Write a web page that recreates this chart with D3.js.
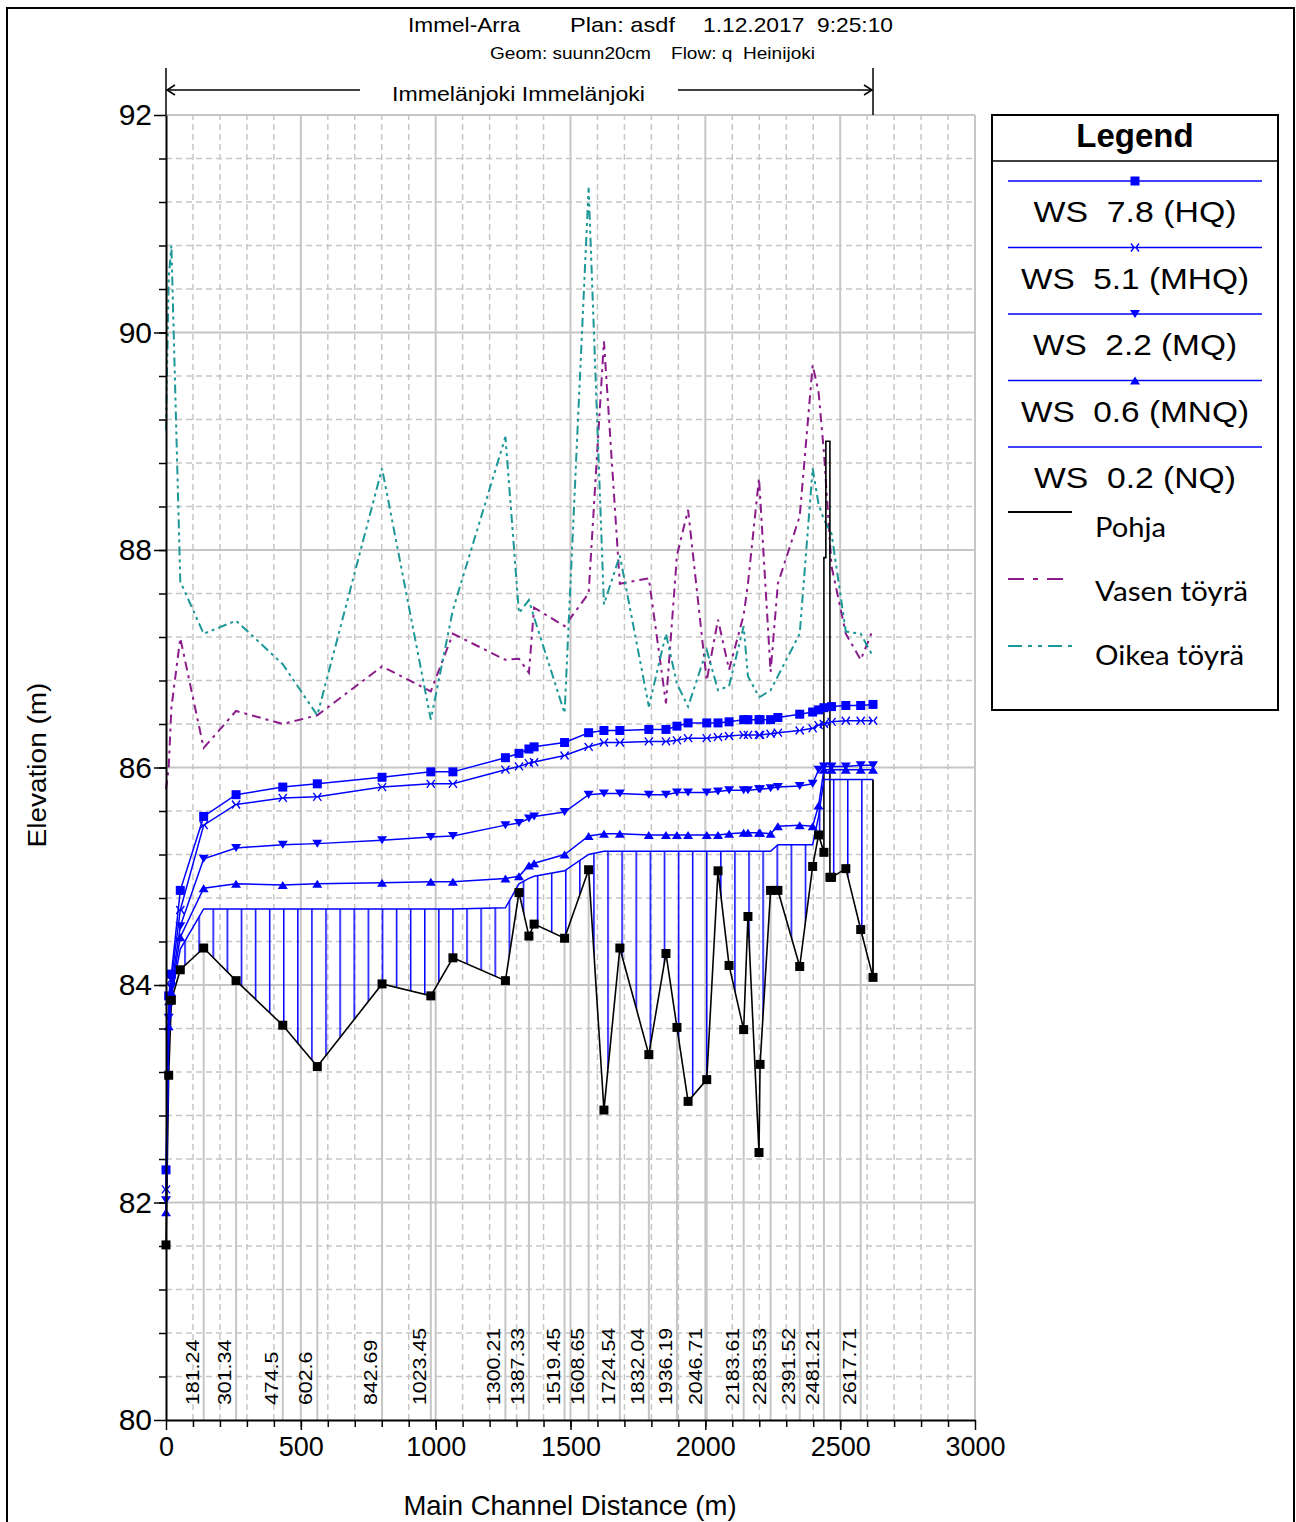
<!DOCTYPE html>
<html>
<head>
<meta charset="utf-8">
<script src="https://cdn.jsdelivr.net/npm/d3@7"></script>
<style>
body { margin: 0; background: #fff; }
svg { display: block; }
</style>
</head>
<body>
<svg id="chart"></svg>
<script>
// cross sections: main channel distance (m)
const wsDist = [0, 10, 20, 53, 139.7, 259.8, 433, 561.1, 801.2, 982, 1064, 1258.7, 1309, 1345.8, 1365, 1478, 1567.2, 1624, 1683, 1790.5,
    1854, 1894.7, 1936, 2005.2, 2047, 2088, 2142.1, 2158, 2199, 2203, 2242, 2269, 2350, 2398, 2420, 2439.7, 2468, 2521, 2576.2, 2621.8]

// water surface profiles (m)
const wsHQ = [82.30, 83.90, 84.10, 84.87, 85.55, 85.75, 85.82, 85.85, 85.91, 85.96, 85.96, 86.09, 86.13, 86.17, 86.19, 86.23, 86.32, 86.34, 86.34, 86.35,
    86.35, 86.38, 86.41, 86.41, 86.41, 86.42, 86.44, 86.44, 86.44, 86.44, 86.44, 86.46, 86.49, 86.51, 86.53, 86.55, 86.56, 86.57, 86.57, 86.58]
const wsMHQ = [82.12, 83.85, 84.05, 84.69, 85.47, 85.66, 85.72, 85.73, 85.82, 85.85, 85.85, 85.98, 86.01, 86.04, 86.05, 86.11, 86.19, 86.23, 86.23, 86.24,
    86.24, 86.25, 86.27, 86.27, 86.28, 86.29, 86.30, 86.30, 86.30, 86.30, 86.31, 86.32, 86.34, 86.36, 86.39, 86.40, 86.42, 86.43, 86.43, 86.43]
const wsMQ = [82.02, 83.70, 83.98, 84.54, 85.16, 85.26, 85.29, 85.30, 85.33, 85.36, 85.37, 85.47, 85.49, 85.53, 85.55, 85.59, 85.75, 85.76, 85.76, 85.75,
    85.75, 85.77, 85.77, 85.77, 85.78, 85.79, 85.79, 85.79, 85.80, 85.80, 85.81, 85.82, 85.83, 85.85, 85.98, 86.01, 86.01, 86.01, 86.02, 86.02]
const wsMNQ = [81.91, 83.62, 83.93, 84.44, 84.89, 84.93, 84.92, 84.93, 84.94, 84.95, 84.95, 84.98, 85.00, 85.10, 85.12, 85.20, 85.37, 85.39, 85.39, 85.38,
    85.38, 85.38, 85.38, 85.38, 85.38, 85.39, 85.40, 85.40, 85.40, 85.40, 85.39, 85.46, 85.47, 85.46, 85.65, 85.98, 85.98, 85.98, 85.98, 85.98]
const wsNQ = [81.88, 83.55, 83.90, 84.33, 84.70, 84.70, 84.70, 84.70, 84.70, 84.70, 84.70, 84.71, 84.93, 84.98, 85.00, 85.05, 85.20, 85.23, 85.23, 85.23,
    85.23, 85.23, 85.23, 85.23, 85.23, 85.23, 85.23, 85.23, 85.23, 85.23, 85.23, 85.29, 85.29, 85.29, 85.55, 85.89, 85.89, 85.89, 85.89, 85.89]

// banks
const vasen = [85.80, 86.00, 86.55, 87.19, 86.18, 86.52, 86.40, 86.48, 86.93, 86.70, 87.23, 86.99, 87.00, 86.87, 87.47, 87.30, 87.60, 89.92, 87.69, 87.74,
    86.59, 87.95, 88.37, 86.80, 87.36, 86.90, 87.40, 87.69, 88.66, 88.50, 86.88, 87.69, 88.31, 89.70, 89.45, 88.90, 87.85, 87.23, 86.99, 87.27]
const oikea = [89.10, 90.50, 90.80, 87.71, 87.23, 87.35, 86.95, 86.48, 88.75, 86.44, 87.45, 89.04, 87.42, 87.54, 87.38, 86.50, 91.33, 87.50, 87.95, 86.56,
    87.23, 86.77, 86.56, 87.08, 86.71, 86.75, 87.30, 86.84, 86.65, 86.65, 86.71, 86.84, 87.23, 88.75, 88.42, 88.28, 88.15, 87.25, 87.23, 87.02]

// channel bed (includes the weir outline)
const pohjaDist = [0, 10, 20, 53, 139.7, 259.8, 433, 561.1, 801.2, 982, 1064, 1258.7, 1309, 1345.8, 1365, 1478, 1567.2, 1624, 1683, 1790.5,
    1854, 1894.7, 1936, 2005.2, 2047, 2088, 2142.1, 2158, 2199, 2203, 2242, 2269, 2350, 2398, 2420, 2439.7, 2439.7, 2447, 2447, 2462,
    2462, 2468, 2521, 2576.2, 2621.8]
const pohjaZ = [81.61, 83.17, 83.86, 84.14, 84.34, 84.04, 83.63, 83.25, 84.01, 83.90, 84.25, 84.04, 84.85, 84.45, 84.56, 84.43, 85.06, 82.85, 84.34, 83.36,
    84.29, 83.61, 82.93, 83.13, 85.05, 84.18, 83.59, 84.63, 82.46, 83.27, 84.87, 84.87, 84.17, 85.09, 85.38, 85.22, 87.93, 87.93, 89.00, 89.00,
    84.99, 84.99, 85.07, 84.51, 84.07]
const pohjaMark = [1, 1, 1, 1, 1, 1, 1, 1, 1, 1, 1, 1, 1, 1, 1, 1, 1, 1, 1, 1,
    1, 1, 1, 1, 1, 1, 1, 1, 1, 1, 1, 1, 1, 1, 1, 1, 0, 0, 0, 0,
    1, 1, 1, 1, 1]

// labelled river stations
const rsLabels = ["181.24", "301.34", "474.5", "602.6", "842.69", "1023.45", "1300.21", "1387.33", "1519.45", "1608.65",
    "1724.54", "1832.04", "1936.19", "2046.71", "2183.61", "2283.53", "2391.52", "2481.21", "2617.71"]
const rsDist = [139.7, 259.8, 433, 561.1, 801.2, 982, 1258.7, 1345.8, 1478, 1567.2,
    1683, 1790.5, 1894.7, 2005.2, 2142.1, 2242, 2350, 2439.7, 2576.2]

const xMajor = [0, 500, 1000, 1500, 2000, 2500, 3000]
const yMajor = [80, 82, 84, 86, 88, 90, 92]

const W = 1296, H = 1522
const font = "'Liberation Sans', Arial, Helvetica, sans-serif"
const blue = "#0000ff", grid = "#c6c6c6", purple = "#8b1a8b", teal = "#1d9797"

let svg = d3.select("#chart").attr("width", W).attr("height", H)

let x = d3.scaleLinear().domain([0, 3000]).range([166, 975])
let y = d3.scaleLinear().domain([80, 92]).range([1420, 115])

// outer frame
svg.append("rect").attr("x", 7).attr("y", 8).attr("width", 1287).attr("height", 1540)
    .attr("fill", "none").attr("stroke", "#000").attr("stroke-width", 2)

// grid
let gGrid = svg.append("g")
d3.range(1, 31).forEach(function(i) {
    let v = i * 100, major = v % 500 === 0
    gGrid.append("line").attr("x1", x(v)).attr("x2", x(v)).attr("y1", y(80)).attr("y2", y(92))
        .attr("stroke", grid).attr("stroke-width", major ? 2 : 1.5)
        .attr("stroke-dasharray", major ? null : "6,4")
})
d3.range(1, 31).forEach(function(i) {
    let v = 80 + i * 0.4, major = i % 5 === 0
    gGrid.append("line").attr("x1", x(0)).attr("x2", x(3000)).attr("y1", y(v)).attr("y2", y(v))
        .attr("stroke", grid).attr("stroke-width", major ? 2 : 1.5)
        .attr("stroke-dasharray", major ? null : "6,4")
})

// station lines, from axis up to the bed
function bedAt(d) {
    return pohjaZ[pohjaDist.indexOf(d)]
}
svg.append("g").selectAll("line").data(rsDist).enter().append("line")
    .attr("x1", d => x(d)).attr("x2", d => x(d))
    .attr("y1", y(80)).attr("y2", d => y(bedAt(d)))
    .attr("stroke", grid).attr("stroke-width", 2)

// station labels
svg.append("g").selectAll("text").data(rsLabels).enter().append("text")
    .attr("transform", (d, i) => "translate(" + (x(rsDist[i]) - 5) + ",1405) rotate(-90) scale(1.22,1)")
    .attr("font-family", font).attr("font-size", 17.5).attr("fill", "#000")
    .text(d => d)

// data as point objects
const wsPts = vals => wsDist.map((d, i) => ({ d: d, v: vals[i] }))
const bedPts = pohjaDist.map((d, i) => ({ d: d, v: pohjaZ[i], m: pohjaMark[i] }))

let line = d3.line().x(p => x(p.d)).y(p => y(p.v))
let below = d3.area().x(p => x(p.d)).y0(y(80)).y1(p => y(p.v))

// hatched water body for the lowest profile
let defs = svg.append("defs")
let pat = defs.append("pattern").attr("id", "hatch").attr("patternUnits", "userSpaceOnUse")
    .attr("x", 212.5).attr("y", 0).attr("width", 14.1).attr("height", 20)
pat.append("line").attr("x1", 0.75).attr("x2", 0.75).attr("y1", 0).attr("y2", 20)
    .attr("stroke", blue).attr("stroke-width", 1.5)
let mask = defs.append("mask").attr("id", "water").attr("maskUnits", "userSpaceOnUse")
    .attr("x", 0).attr("y", 0).attr("width", W).attr("height", H)
mask.append("path").attr("d", below(wsPts(wsNQ))).attr("fill", "#fff")
mask.append("path").attr("d", below(bedPts)).attr("fill", "#000")
svg.append("rect").attr("x", x(0)).attr("y", y(92)).attr("width", x(2621.8) - x(0)).attr("height", y(80) - y(92))
    .attr("fill", "url(#hatch)").attr("mask", "url(#water)")

// right edge of the water body
let last = wsDist.length - 1
svg.append("line").attr("x1", x(wsDist[last])).attr("x2", x(wsDist[last]))
    .attr("y1", y(wsNQ[last])).attr("y2", y(pohjaZ[pohjaZ.length - 1]))
    .attr("stroke", "#111").attr("stroke-width", 2)

// banks
svg.append("path").attr("d", line(wsPts(vasen))).attr("fill", "none")
    .attr("stroke", purple).attr("stroke-width", 2).attr("stroke-dasharray", "9,5,3,5")
svg.append("path").attr("d", line(wsPts(oikea))).attr("fill", "none")
    .attr("stroke", teal).attr("stroke-width", 2).attr("stroke-dasharray", "9,4,3,4,3,4")

// bed line
svg.append("path").attr("d", line(bedPts)).attr("fill", "none")
    .attr("stroke", "#000").attr("stroke-width", 1.6)

// markers
const markerPath = {
    square: "M-4.5,-4.5H4.5V4.5H-4.5Z",
    xstar: "M-4,-4L-1,0L-4,4M4,-4L1,0L4,4",
    down: "M-5,-4L5,-4L0,4Z",
    up: "M-5,4L5,4L0,-4Z"
}
function drawMarker(g, type, cx, cy, color) {
    if (!type) return
    let p = g.append("path").attr("d", markerPath[type]).attr("transform", "translate(" + cx + "," + cy + ")")
    if (type === "xstar") p.attr("fill", "none").attr("stroke", color).attr("stroke-width", 1.4)
    else p.attr("fill", color)
}

const series = [
    { name: "WS  7.8 (HQ)", vals: wsHQ, mark: "square", w: 203 },
    { name: "WS  5.1 (MHQ)", vals: wsMHQ, mark: "xstar", w: 228 },
    { name: "WS  2.2 (MQ)", vals: wsMQ, mark: "down", w: 204 },
    { name: "WS  0.6 (MNQ)", vals: wsMNQ, mark: "up", w: 228 },
    { name: "WS  0.2 (NQ)", vals: wsNQ, mark: null, w: 202 }
]

series.slice().reverse().forEach(function(s) {
    let g = svg.append("g")
    g.append("path").attr("d", line(wsPts(s.vals))).attr("fill", "none")
        .attr("stroke", blue).attr("stroke-width", 1.5)
    wsPts(s.vals).forEach(p => drawMarker(g, s.mark, x(p.d), y(p.v), blue))
})

let gBed = svg.append("g")
bedPts.filter(p => p.m).forEach(p => drawMarker(gBed, "square", x(p.d), y(p.v), "#000"))

// axes
let xAxis = svg.append("g").attr("transform", "translate(0," + y(80) + ")")
    .call(d3.axisBottom(x).tickValues(xMajor).tickSize(10).tickPadding(7).tickSizeOuter(0).tickFormat(d3.format("d")))
svg.append("g").attr("transform", "translate(0," + y(80) + ")")
    .call(d3.axisBottom(x).tickValues(d3.range(100, 3000, 100)).tickSize(7).tickFormat(""))
    .call(g => g.select(".domain").remove())
    .selectAll("line").attr("stroke", "#000").attr("stroke-width", 1.5)
let yAxis = svg.append("g").attr("transform", "translate(" + x(0) + ",0)")
    .call(d3.axisLeft(y).tickValues(yMajor).tickSize(12).tickPadding(2).tickSizeOuter(0).tickFormat(d3.format("d")))
svg.append("g").attr("transform", "translate(" + x(0) + ",0)")
    .call(d3.axisLeft(y).tickValues(d3.range(1, 30).map(i => 80 + i * 0.4)).tickSize(7).tickFormat(""))
    .call(g => g.select(".domain").remove())
    .selectAll("line").attr("stroke", "#000").attr("stroke-width", 1.5)

;[xAxis, yAxis].forEach(function(a) {
    a.select(".domain").attr("stroke", "#000").attr("stroke-width", 2)
    a.selectAll(".tick line").attr("stroke", "#000").attr("stroke-width", 1.5)
})
xAxis.selectAll("text").attr("font-family", font).attr("font-size", 27).attr("fill", "#000")
yAxis.selectAll("text").attr("font-family", font).attr("font-size", 30).attr("fill", "#000")

// axis titles
svg.append("text").attr("x", 570).attr("y", 1515).attr("text-anchor", "middle")
    .attr("font-family", font).attr("font-size", 27.5).text("Main Channel Distance (m)")
svg.append("text").attr("transform", "translate(46,765) rotate(-90) scale(1.12,1)").attr("text-anchor", "middle")
    .attr("font-family", font).attr("font-size", 25).text("Elevation (m)")

// header
function label(s, tx, ty, size, len) {
    return svg.append("text").attr("x", tx).attr("y", ty).attr("font-family", font).attr("font-size", size)
        .attr("textLength", len).attr("lengthAdjust", "spacingAndGlyphs").style("white-space", "pre").text(s)
}
label("Immel-Arra", 408, 32, 21, 112)
label("Plan: asdf", 570, 32, 21, 105)
label("1.12.2017  9:25:10", 703, 32, 21, 190)
label("Geom: suunn20cm", 490, 59, 17, 161)
label("Flow: q  Heinijoki", 671, 59, 17, 144)
label("Immelänjoki Immelänjoki", 392, 101, 21, 253)

// reach extent arrow
let xe = x(wsDist[last])
let gReach = svg.append("g").attr("stroke", "#000").attr("stroke-width", 1.5).attr("fill", "none")
gReach.append("line").attr("x1", x(0)).attr("x2", x(0)).attr("y1", 68).attr("y2", y(92))
gReach.append("line").attr("x1", xe).attr("x2", xe).attr("y1", 68).attr("y2", y(92))
gReach.append("line").attr("x1", x(0) + 1).attr("x2", 360).attr("y1", 90).attr("y2", 90)
gReach.append("line").attr("x1", 678).attr("x2", xe - 1).attr("y1", 90).attr("y2", 90)
gReach.append("path").attr("d", "M" + (x(0) + 9) + ",85L" + (x(0) + 1) + ",90L" + (x(0) + 9) + ",95")
gReach.append("path").attr("d", "M" + (xe - 9) + ",85L" + (xe - 1) + ",90L" + (xe - 9) + ",95")

// legend
let lg = svg.append("g")
lg.append("rect").attr("x", 992).attr("y", 115).attr("width", 286).attr("height", 595)
    .attr("fill", "#fff").attr("stroke", "#000").attr("stroke-width", 2)
lg.append("line").attr("x1", 992).attr("x2", 1278).attr("y1", 161).attr("y2", 161)
    .attr("stroke", "#000").attr("stroke-width", 1.5)
lg.append("text").attr("x", 1135).attr("y", 147).attr("text-anchor", "middle")
    .attr("font-family", font).attr("font-weight", "bold").attr("font-size", 33).text("Legend")

series.forEach(function(s, i) {
    let ly = 181 + i * 66.5
    lg.append("line").attr("x1", 1008).attr("x2", 1262).attr("y1", ly).attr("y2", ly)
        .attr("stroke", blue).attr("stroke-width", 1.5)
    drawMarker(lg, s.mark, 1135, ly, blue)
    lg.append("text").attr("x", 1135).attr("y", ly + 41).attr("text-anchor", "middle")
        .attr("font-family", font).attr("font-size", 30).attr("textLength", s.w)
        .attr("lengthAdjust", "spacingAndGlyphs").style("white-space", "pre").text(s.name)
})

const others = [
    { name: "Pohja", color: "#000", dash: null, w: 71 },
    { name: "Vasen töyrä", color: purple, dash: "16,9,5,9", w: 153 },
    { name: "Oikea töyrä", color: teal, dash: "14,6,4,6,4,6", w: 149 }
]
others.forEach(function(o, i) {
    let ly = 512 + i * 67
    lg.append("line").attr("x1", 1008).attr("x2", 1072).attr("y1", ly).attr("y2", ly)
        .attr("stroke", o.color).attr("stroke-width", 2).attr("stroke-dasharray", o.dash)
    lg.append("text").attr("x", 1095).attr("y", ly + 25 - i * 3)
        .attr("font-family", "Lato, 'Open Sans', sans-serif").attr("font-size", 26)
        .attr("textLength", o.w).attr("lengthAdjust", "spacingAndGlyphs").text(o.name)
})
</script>
</body>
</html>
